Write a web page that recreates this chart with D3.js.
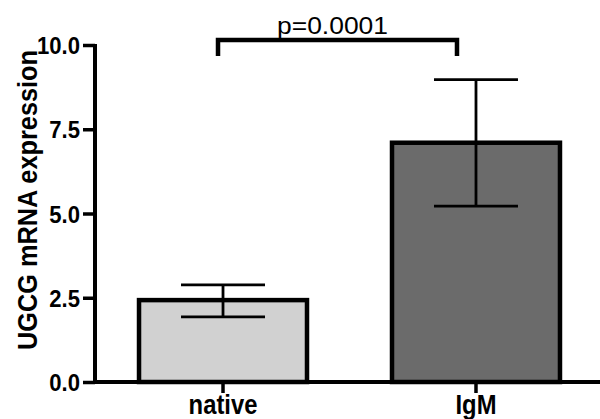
<!DOCTYPE html>
<html><head><meta charset="utf-8">
<script src="https://cdn.jsdelivr.net/npm/d3@7"></script>
<style>body{margin:0;background:#fff}</style>
</head><body>
<svg id="c" width="600" height="419"></svg>
<script>
const categories = ["native", "IgM"];
const means = [2.43, 7.1];
const errLow = [1.93, 5.22];
const errHigh = [2.88, 8.97];
const fills = ["#d1d1d1", "#6b6b6b"];
const yTicks = [0, 2.5, 5, 7.5, 10];
const yTickLabels = ["0.0", "2.5", "5.0", "7.5", "10.0"];
const pLabel = "p=0.0001";
const bracketY = 10.15;
const yTitle = "UGCG mRNA expression";

const svg = d3.select("#c");
const font = "Liberation Sans, Arial, Helvetica, sans-serif";
const x = d3.scaleBand().domain(categories).range([95, 604]).paddingInner(0.336).paddingOuter(0.174);
const y = d3.scaleLinear().domain([0, 10]).range([382, 45]);

function condense(sel, f) {
  sel.each(function() {
    const L = this.getComputedTextLength();
    d3.select(this).attr("textLength", L * f).attr("lengthAdjust", "spacingAndGlyphs");
  });
}

// bars
svg.selectAll("rect.bar").data(categories).enter().append("rect")
  .attr("x", d => x(d)).attr("width", x.bandwidth())
  .attr("y", (d,i) => y(means[i])).attr("height", (d,i) => y(0) - y(means[i]))
  .attr("fill", (d,i) => fills[i]).attr("stroke", "#000").attr("stroke-width", 4.5);

// error bars
const cap = x.bandwidth() / 4;
categories.forEach((c, i) => {
  const cx = x(c) + x.bandwidth() / 2;
  const g = svg.append("g").attr("stroke", "#000").attr("stroke-width", 2.8);
  g.append("line").attr("x1", cx).attr("x2", cx).attr("y1", y(errLow[i])).attr("y2", y(errHigh[i]));
  g.append("line").attr("x1", cx - cap).attr("x2", cx + cap).attr("y1", y(errLow[i])).attr("y2", y(errLow[i]));
  g.append("line").attr("x1", cx - cap).attr("x2", cx + cap).attr("y1", y(errHigh[i])).attr("y2", y(errHigh[i]));
});

// y axis
const yAxis = svg.append("g").attr("transform", "translate(95,0)")
  .call(d3.axisLeft(y).tickValues(yTicks).tickFormat((d,i) => yTickLabels[i]).tickSize(12).tickPadding(3));
yAxis.select(".domain").attr("stroke", "#000").attr("stroke-width", 4).attr("d", `M0,${y(10)-1}V${y(0)}`);
yAxis.selectAll(".tick line").attr("stroke", "#000").attr("stroke-width", 3.5);
yAxis.selectAll(".tick text").attr("font-family", font).attr("font-weight", "bold").attr("font-size", 24).attr("fill", "#000").attr("dy", "0.36em");
condense(yAxis.selectAll(".tick text"), 0.92);

// x axis
const xAxis = svg.append("g").attr("transform", `translate(0,${y(0)})`)
  .call(d3.axisBottom(x).tickSize(11).tickPadding(0));
xAxis.select(".domain").attr("stroke", "#000").attr("stroke-width", 4).attr("d", "M93,0H600");
xAxis.selectAll(".tick line").attr("stroke", "#000").attr("stroke-width", 3.5);
xAxis.selectAll(".tick text").attr("font-family", font).attr("font-weight", "bold").attr("font-size", 28).attr("fill", "#000")
  .attr("dy", null).attr("y", 32);
condense(xAxis.selectAll(".tick text"), 0.85);

// y title
svg.append("text").attr("transform", "translate(37,200) rotate(-90)")
  .attr("text-anchor", "middle").attr("font-family", font).attr("font-weight", "bold")
  .attr("font-size", 28).attr("fill", "#000").text(yTitle)
  .attr("textLength", 300).attr("lengthAdjust", "spacingAndGlyphs");

// significance bracket
const x1 = x(categories[0]) + x.bandwidth()/2 - 5, x2 = x(categories[1]) + x.bandwidth()/2 - 19;
const by = y(bracketY);
svg.append("path").attr("d", `M${x1},${by+16}V${by}H${x2}V${by+16}`)
  .attr("fill", "none").attr("stroke", "#000").attr("stroke-width", 4.5);
svg.append("text").attr("x", 332.5).attr("y", by - 6).attr("text-anchor", "middle")
  .attr("font-family", font).attr("font-size", 24).attr("fill", "#000").text(pLabel)
  .attr("textLength", 111).attr("lengthAdjust", "spacingAndGlyphs");
</script>
</body></html>
